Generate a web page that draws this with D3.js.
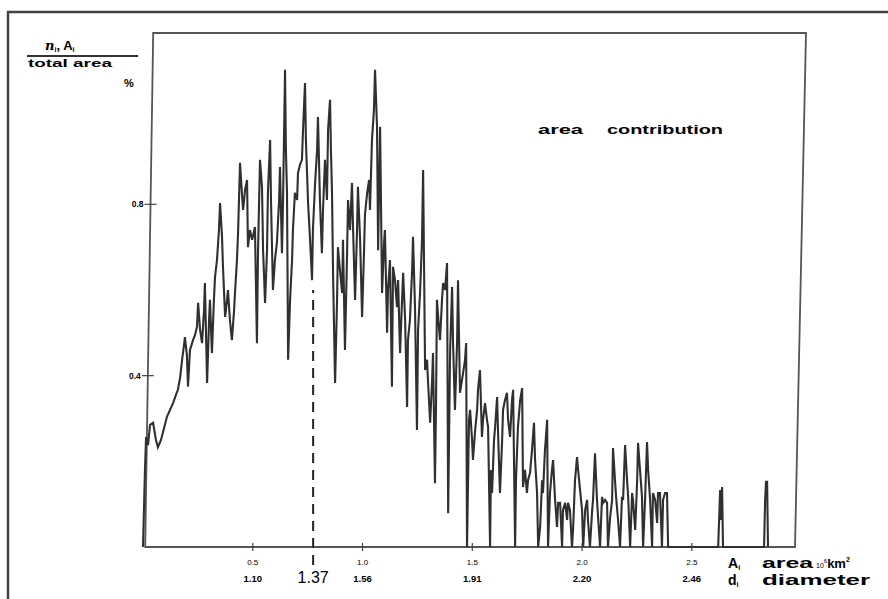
<!DOCTYPE html>
<html lang="en">
<head>
<meta charset="UTF-8">
<title>Area contribution</title>
<script src="https://cdnjs.cloudflare.com/ajax/libs/d3/7.8.5/d3.min.js"></script>
<style>
  body { margin: 0; background: #fff; }
  svg { font-family: "Liberation Sans", Arial, sans-serif; }
</style>
</head>
<body>
<div id="chart"></div>
<script>
// area A_i (10^6 km2) of each step of the trace
const areaValues = [
  0.000,0.009,0.014,0.023,0.032,0.046,0.059,0.068,0.082,0.096,
  0.109,0.123,0.137,0.150,0.159,0.169,0.178,0.187,0.191,0.200,
  0.205,0.214,0.228,0.237,0.246,0.251,0.260,0.269,0.278,0.282,
  0.292,0.301,0.305,0.314,0.323,0.328,0.337,0.346,0.351,0.360,
  0.364,0.374,0.383,0.387,0.396,0.405,0.415,0.419,0.428,0.433,
  0.442,0.451,0.456,0.465,0.474,0.478,0.487,0.497,0.510,0.519,
  0.524,0.533,0.542,0.547,0.556,0.565,0.569,0.579,0.583,0.592,
  0.601,0.610,0.620,0.624,0.633,0.638,0.647,0.651,0.656,0.661,
  0.670,0.679,0.683,0.692,0.702,0.706,0.715,0.724,0.729,0.738,
  0.742,0.752,0.761,0.770,0.774,0.784,0.793,0.797,0.806,0.815,
  0.820,0.829,0.838,0.843,0.852,0.856,0.861,0.866,0.875,0.884,
  0.888,0.897,0.907,0.911,0.920,0.929,0.934,0.943,0.952,0.957,
  0.966,0.975,0.979,0.989,0.998,1.007,1.011,1.021,1.030,1.034,
  1.043,1.052,1.057,1.066,
  1.071,1.080,1.084,1.089,1.098,1.102,1.112,1.116,1.125,1.134,
  1.139,1.148,1.157,1.162,1.171,1.180,1.185,1.194,1.203,1.207,
  1.216,1.226,1.230,1.239,1.248,1.253,1.262,1.271,1.276,1.280,
  1.285,1.294,1.298,1.308,1.317,1.321,1.330,1.335,1.339,1.349,
  1.353,1.362,1.367,1.376,1.385,1.390,1.399,1.408,1.412,1.421,
  1.431,1.435,1.444,1.453,1.458,1.467,1.472,1.476,1.485,1.490,
  1.499,1.503,1.513,1.522,1.526,1.535,1.544,1.549,1.558,1.567,
  1.572,1.581,1.585,1.590,1.599,1.604,1.613,1.617,1.626,1.636,
  1.640,1.649,1.658,1.663,1.672,1.681,1.686,1.695,1.699,1.708,
  1.718,1.727,1.731,1.740,1.749,1.754,1.763,1.772,1.781,1.786,
  1.795,1.800,1.809,1.818,1.822,1.831,1.841,1.845,1.854,1.863,
  1.868,1.877,1.886,1.891,1.900,1.909,1.913,1.923,1.932,1.936,
  1.945,1.954,1.959,1.968,1.977,1.982,1.991,2.000,2.005,2.014,
  2.023,2.027,2.036,2.046,2.050,2.059,2.068,2.073,2.082,2.091,
  2.096,2.105,2.114,2.118,2.128,2.137,2.141,2.150,2.155,2.164,
  2.173,2.182,2.187,2.196,2.205,2.210,2.219,2.228,2.232,2.242,
  2.251,2.255,2.264,2.273,2.278,2.287,2.296,2.301,2.310,2.319,
  2.323,2.333,2.342,2.346,2.355,2.364,2.369,2.378,2.387,2.392,
  2.620,2.629,2.633,2.638,2.642,2.829,2.834,2.838,2.843,2.847
];

// n_i A_i / total area, in %
const contribution = [
  0.000,0.180,0.257,0.238,0.285,0.290,0.250,0.233,0.250,0.278,
  0.304,0.320,0.336,0.355,0.367,0.395,0.437,0.472,0.490,0.448,
  0.374,0.460,0.483,0.495,0.514,0.570,0.507,0.476,0.553,0.616,
  0.383,0.530,0.577,0.453,0.577,0.630,0.670,0.740,0.803,0.724,
  0.658,0.537,0.577,0.600,0.530,0.483,0.553,0.593,0.670,0.733,
  0.897,0.822,0.787,0.834,0.857,0.700,0.740,0.717,0.747,0.476,
  0.693,0.904,0.841,0.693,0.570,0.693,0.827,0.950,0.810,0.600,
  0.670,0.710,0.810,0.887,0.686,0.810,1.114,0.927,0.827,0.437,
  0.577,0.670,0.740,0.827,0.810,0.873,0.892,0.904,0.974,1.083,
  0.950,0.803,0.717,0.623,0.740,0.850,0.927,1.004,0.810,0.686,
  0.787,0.904,0.810,0.974,1.044,0.927,0.827,0.630,0.383,0.577,
  0.700,0.647,0.593,0.717,0.460,0.670,0.810,0.740,0.850,0.740,
  0.577,0.740,0.841,0.717,0.537,0.693,0.775,0.827,0.857,0.787,
  0.950,1.020,1.114,0.981,
  0.693,0.981,0.810,0.593,0.710,0.740,0.500,0.600,0.670,0.374,
  0.654,0.623,0.560,0.623,0.453,0.577,0.640,0.530,0.327,0.483,
  0.530,0.647,0.724,0.560,0.273,0.507,0.593,0.717,0.880,0.670,
  0.413,0.437,0.390,0.290,0.390,0.453,0.149,0.343,0.577,0.507,
  0.483,0.577,0.616,0.600,0.663,0.079,0.460,0.607,0.483,0.320,
  0.483,0.623,0.360,0.390,0.406,0.437,0.476,0.000,0.297,0.320,
  0.250,0.203,0.273,0.320,0.367,0.413,0.257,0.297,0.336,0.297,
  0.280,0.000,0.180,0.126,0.250,0.280,0.350,0.273,0.126,0.250,
  0.320,0.343,0.360,0.297,0.257,0.343,0.367,0.000,0.156,0.280,
  0.343,0.371,0.140,0.180,0.126,0.156,0.173,0.226,0.290,0.203,
  0.126,0.000,0.047,0.156,0.126,0.226,0.297,0.000,0.126,0.180,
  0.203,0.110,0.047,0.103,0.103,0.000,0.086,0.103,0.063,0.103,
  0.086,0.000,0.040,0.156,0.210,0.180,0.133,0.086,0.000,0.086,
  0.110,0.063,0.000,0.086,0.110,0.219,0.110,0.070,0.000,0.117,
  0.103,0.110,0.103,0.000,0.070,0.110,0.231,0.156,0.117,0.063,
  0.000,0.117,0.110,0.238,0.156,0.117,0.000,0.126,0.110,0.040,
  0.156,0.243,0.180,0.117,0.000,0.110,0.245,0.180,0.110,0.000,
  0.126,0.110,0.056,0.126,0.126,0.000,0.110,0.126,0.126,0.000,
  0.000,0.133,0.063,0.140,0.000,0.000,0.110,0.152,0.152,0.000
];

const xTicks = [0.5, 1.0, 1.5, 2.0, 2.5];
const xTickLabels = ["0.5", "1.0", "1.5", "2.0", "2.5"];
const diameterLabels = ["1.10", "1.56", "1.91", "2.20", "2.46"];
const yTicks = [0.4, 0.8];
const yTickLabels = ["0.4", "0.8"];
const medianArea = 0.775;
const medianLabel = "1.37";
const medianTop = 0.6;

const width = 888, height = 599;

const x = d3.scaleLinear().domain([0, 2.97]).range([143, 795]);
const y = d3.scaleLinear().domain([0, 1.2]).range([547, 33]);

const svg = d3.select("#chart").append("svg")
    .attr("width", width)
    .attr("height", height);

// outer border of the figure
svg.append("path")
    .attr("d", "M8,599 L8,12 L888,12")
    .attr("fill", "none")
    .attr("stroke", "#444")
    .attr("stroke-width", 2.5);

// the scanned frame leans a little, so the sides are slanted
const y0 = y(0), yTop = y(1.2);
const lean = (yy, dx) => dx * (y0 - yy) / (y0 - yTop);
const leftX = yy => x(0.01) + lean(yy, 8);
const rightX = yy => x(2.97) + lean(yy, 11);

svg.append("path")
    .attr("d", `M${leftX(y0)},${y0} L${leftX(yTop)},${yTop} L${rightX(yTop)},${yTop} L${rightX(y0)},${y0} Z`)
    .attr("fill", "none")
    .attr("stroke", "#555")
    .attr("stroke-width", 1.8);

// data trace
const line = d3.line()
    .x(d => x(d[0]))
    .y(d => y(d[1]));

svg.append("path")
    .datum(areaValues.map((a, i) => [a, contribution[i]]))
    .attr("d", line)
    .attr("fill", "none")
    .attr("stroke", "#303030")
    .attr("stroke-width", 2.1)
    .attr("stroke-linejoin", "miter");

// y ticks (crosses on the frame)
const yt = svg.append("g");
yTicks.forEach((t, i) => {
    const lx = leftX(y(t));
    yt.append("line")
        .attr("x1", lx - 6).attr("x2", lx + 6)
        .attr("y1", y(t)).attr("y2", y(t))
        .attr("stroke", "#444").attr("stroke-width", 1.2);
    yt.append("text")
        .attr("x", lx - 7).attr("y", y(t) + 3)
        .attr("text-anchor", "end")
        .attr("font-size", 8.5)
        .attr("font-weight", "bold")
        .text(yTickLabels[i]);
});

// x ticks and the two label rows
const xt = svg.append("g");
xTicks.forEach((t, i) => {
    xt.append("line")
        .attr("x1", x(t)).attr("x2", x(t))
        .attr("y1", y0 - 4).attr("y2", y0 + 4)
        .attr("stroke", "#444").attr("stroke-width", 1.2);
    xt.append("text")
        .attr("x", x(t)).attr("y", 565)
        .attr("text-anchor", "middle")
        .attr("font-size", 8)
        .text(xTickLabels[i]);
    xt.append("text")
        .attr("x", x(t)).attr("y", 582)
        .attr("text-anchor", "middle")
        .attr("font-size", 9.5)
        .attr("font-weight", "bold")
        .text(diameterLabels[i]);
});

// median marker
svg.append("line")
    .attr("x1", x(medianArea)).attr("x2", x(medianArea))
    .attr("y1", y0 + 18).attr("y2", y(medianTop))
    .attr("stroke", "#222")
    .attr("stroke-width", 2)
    .attr("stroke-dasharray", "10,7");

svg.append("text")
    .attr("x", x(medianArea)).attr("y", 583)
    .attr("text-anchor", "middle")
    .attr("font-size", 16)
    .text(medianLabel);

// y axis title as a fraction
const yl = svg.append("g").attr("font-weight", "bold");
const num = yl.append("text").attr("x", 45).attr("y", 50).attr("font-size", 13);
num.append("tspan").attr("font-style", "italic").attr("font-family", "DejaVu Serif").text("n");
num.append("tspan").attr("font-size", 7).attr("dy", 2).text("i");
num.append("tspan").attr("dy", -2).text(", A");
num.append("tspan").attr("font-size", 7).attr("dy", 2).text("i");
yl.append("line")
    .attr("x1", 27).attr("x2", 138).attr("y1", 56).attr("y2", 56)
    .attr("stroke", "#333").attr("stroke-width", 2);
yl.append("text")
    .attr("x", 28).attr("y", 67)
    .attr("font-size", 11)
    .attr("textLength", 84)
    .attr("lengthAdjust", "spacingAndGlyphs")
    .text("total area");
yl.append("text")
    .attr("x", 124).attr("y", 87)
    .attr("font-size", 11)
    .text("%");

// annotation
const ann = svg.append("g").attr("font-size", 13).attr("font-weight", "bold");
ann.append("text").attr("x", 538).attr("y", 134)
    .attr("textLength", 45).attr("lengthAdjust", "spacingAndGlyphs").text("area");
ann.append("text").attr("x", 607).attr("y", 134)
    .attr("textLength", 116).attr("lengthAdjust", "spacingAndGlyphs").text("contribution");

// x axis titles
const xl = svg.append("g").attr("font-weight", "bold").attr("font-size", 14);
const rowA = xl.append("text").attr("x", 728).attr("y", 568);
rowA.append("tspan").text("A");
rowA.append("tspan").attr("font-size", 7).attr("dy", 2).text("i");
xl.append("text").attr("x", 762).attr("y", 568)
    .attr("textLength", 51).attr("lengthAdjust", "spacingAndGlyphs").text("area");
const unit = xl.append("text").attr("x", 816).attr("y", 568);
unit.append("tspan").attr("font-size", 7).attr("font-weight", "normal").text("10");
unit.append("tspan").attr("font-size", 6).attr("dy", -5).attr("font-weight", "normal").text("6");
unit.append("tspan").attr("dy", 5).attr("font-size", 13).text("km");
unit.append("tspan").attr("font-size", 7).attr("dy", -6).text("2");
const rowD = xl.append("text").attr("x", 728).attr("y", 585);
rowD.append("tspan").text("d");
rowD.append("tspan").attr("font-size", 7).attr("dy", 2).text("i");
xl.append("text").attr("x", 762).attr("y", 585)
    .attr("textLength", 108).attr("lengthAdjust", "spacingAndGlyphs").text("diameter");
</script>
</body>
</html>
